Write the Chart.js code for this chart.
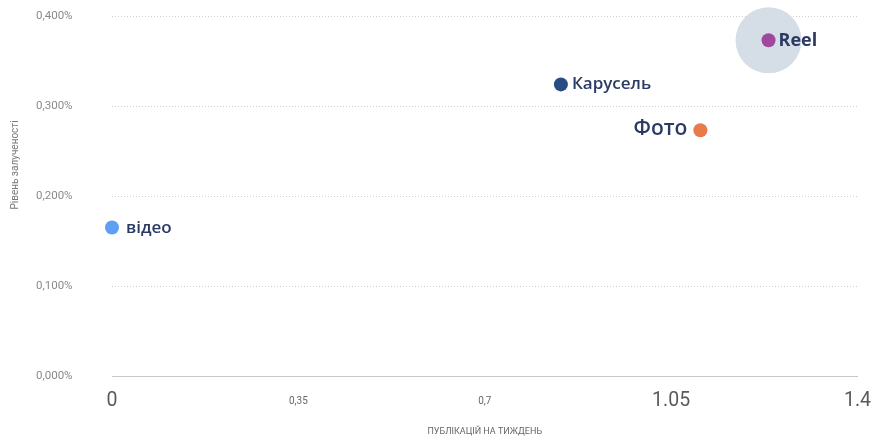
<!DOCTYPE html>
<html>
<head>
<meta charset="utf-8">
<script src="https://cdn.jsdelivr.net/npm/chart.js@4/dist/chart.umd.min.js"></script>
<style>
  html, body { margin: 0; padding: 0; background: #fff; }
  #wrap { width: 876px; height: 441px; }
</style>
</head>
<body>
<div id="wrap"><canvas id="chart"></canvas></div>
<script>
// formats and their numbers
const formats = ["відео", "Карусель", "Фото", "Reel"];
const postsPerWeek = [0, 0.843, 1.105, 1.233];
const engagementRate = [0.165, 0.324, 0.273, 0.373]; // in %

const xTickValues = [0, 0.35, 0.7, 1.05, 1.4];
const xTickLabels = ["0", "0,35", "0,7", "1.05", "1.4"];
const yTickValues = [0, 0.1, 0.2, 0.3, 0.4];

const highlighted = "Reel";

// label look per format
const pointColors = ["#5e9ff3", "#284d84", "#e97a4a", "#a0489e"];
const labelStyle = [
  { dx: 14, dy: 1, align: "left", font: "600 17px 'Open Sans'" },
  { dx: 11, dy: 0, align: "left", font: "600 17px 'Open Sans'" },
  { dx: -13, dy: -1, align: "right", font: "600 21px 'Open Sans'" },
  { dx: 10, dy: 1, align: "left", font: "bold 18px 'Open Sans'" },
];
const bigTick = [true, false, false, true, true];

const pointLabels = {
  id: "pointLabels",
  afterDatasetsDraw(chart) {
    const { ctx, scales: { x, y } } = chart;
    ctx.save();
    ctx.fillStyle = "#2a3a63";
    ctx.textBaseline = "middle";
    formats.forEach((name, i) => {
      const s = labelStyle[i];
      ctx.font = s.font;
      ctx.textAlign = s.align;
      ctx.fillText(name, x.getPixelForValue(postsPerWeek[i]) + s.dx, y.getPixelForValue(engagementRate[i]) + s.dy);
    });
    ctx.restore();
  },
};

const yTitle = {
  id: "yTitle",
  afterDraw(chart) {
    const { ctx } = chart;
    ctx.save();
    ctx.translate(15, 165);
    ctx.rotate(-Math.PI / 2);
    ctx.font = "10px Roboto";
    ctx.fillStyle = "#7a7a7a";
    ctx.textAlign = "center";
    ctx.textBaseline = "middle";
    ctx.fillText("Рівень залученості", 0, 0);
    ctx.restore();
  },
};

const hi = formats.indexOf(highlighted);

new Chart(document.getElementById("chart"), {
  type: "scatter",
  data: {
    datasets: [
      {
        data: formats.map((_, i) => ({ x: postsPerWeek[i], y: engagementRate[i] })),
        pointRadius: 7,
        pointBackgroundColor: pointColors,
        pointBorderWidth: 0,
        clip: false,
        order: 1,
      },
      {
        data: [{ x: postsPerWeek[hi], y: engagementRate[hi] }],
        pointRadius: 33,
        pointBackgroundColor: "#d5dde6",
        pointBorderWidth: 0,
        clip: false,
        order: 2,
      },
    ],
  },
  options: {
    responsive: true,
    maintainAspectRatio: false,
    animation: false,
    layout: { autoPadding: false, padding: { left: 36, right: 18, top: 16, bottom: 0 } },
    plugins: { legend: { display: false }, tooltip: { enabled: false } },
    scales: {
      x: {
        type: "linear",
        min: 0,
        max: 1.4,
        afterBuildTicks: (axis) => { axis.ticks = xTickValues.map(v => ({ value: v })); },
        afterFit: (axis) => { axis.height = 65; },
        grid: { display: false },
        border: { display: true, color: "#c8c8c8", width: 1 },
        ticks: {
          padding: 5,
          maxRotation: 0,
          autoSkip: false,
          callback: (v, i) => xTickLabels[i],
          color: (c) => bigTick[c.index] ? "#5a5a5a" : "#666",
          font: (c) => bigTick[c.index]
            ? { family: "Roboto", size: 19.5 }
            : { family: "Roboto", size: 10, lineHeight: 2.4 },
        },
        title: {
          display: true,
          text: "ПУБЛІКАЦІЙ НА ТИЖДЕНЬ",
          color: "#666",
          font: { family: "Roboto", size: 9 },
          padding: { top: 0, bottom: 4 },
        },
      },
      y: {
        type: "linear",
        min: 0,
        max: 0.4,
        afterBuildTicks: (axis) => { axis.ticks = yTickValues.map(v => ({ value: v })); },
        afterFit: (axis) => { axis.width = 76; },
        grid: { color: "#cfcfcf", drawTicks: false, lineWidth: 1 },
        border: { display: false, dash: [1, 2] },
        ticks: {
          crossAlign: "far",
          color: "#8a8a8a",
          font: { family: "Roboto", size: 11.5 },
          callback: (v) => v.toFixed(3).replace(".", ",") + "%",
        },
      },
    },
  },
  plugins: [pointLabels, yTitle],
});
</script>
</body>
</html>
